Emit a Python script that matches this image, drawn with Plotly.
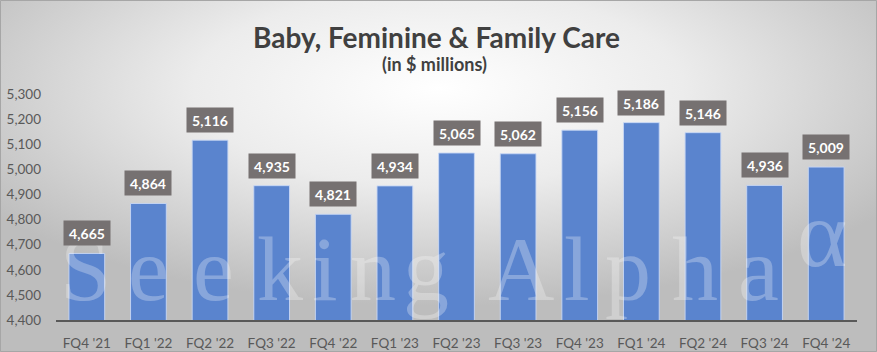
import base64
import plotly.graph_objects as go

# ---- data ----
categories = ["FQ4 '21", "FQ1 '22", "FQ2 '22", "FQ3 '22", "FQ4 '22", "FQ1 '23", "FQ2 '23",
              "FQ3 '23", "FQ4 '23", "FQ1 '24", "FQ2 '24", "FQ3 '24", "FQ4 '24"]
revenue = [4665, 4864, 5116, 4935, 4821, 4934, 5065, 5062, 5156, 5186, 5146, 4936, 5009]
y_ticks = [4400, 4500, 4600, 4700, 4800, 4900, 5000, 5100, 5200, 5300]
title_text = "Baby, Feminine & Family Care"
subtitle_text = "(in $ millions)"
watermark_letters = ["S", "e", "e", "k", "i", "n", "g", "A", "l", "p", "h", "a"]

# ---- layout geometry (pixels) ----
W, H = 877, 352
L, R, T, B = 56, 20, 94, 32
PW, PH = W - L - R, H - T - B


def px_x(x):
    return (x - L) / PW


def px_y(y):
    return (H - B - y) / PH


# background gradient as svg
svg = f'''<svg xmlns="http://www.w3.org/2000/svg" width="{W}" height="{H}" viewBox="0 0 {W} {H}" preserveAspectRatio="none">
<defs><radialGradient id="g" cx="0.5" cy="0.25" r="0.62" gradientUnits="objectBoundingBox">
<stop offset="0" stop-color="#ffffff"/><stop offset="0.45" stop-color="#ececec"/><stop offset="1" stop-color="#bdbdbd"/>
</radialGradient></defs><rect x="0" y="0" width="{W}" height="{H}" fill="url(#g)"/></svg>'''
bg_src = "data:image/svg+xml;base64," + base64.b64encode(svg.encode()).decode()

fig = go.Figure()
fig.add_trace(go.Bar(
    x=categories, y=revenue,
    marker=dict(color="#5A84CE", line=dict(color="rgba(200,215,245,0.9)", width=1)),
    hoverinfo="skip",
))

annotations = []
# watermark letters
wm_x = [85, 148, 213, 280, 325, 373, 426, 521, 577, 628, 695, 758]
for ch, x in zip(watermark_letters, wm_x):
    annotations.append(dict(
        x=px_x(x), y=px_y(300), xref="paper", yref="paper", text=ch, showarrow=False,
        xanchor="center", yanchor="bottom", yshift=-22,
        font=dict(family="Liberation Serif", size=92, color="rgba(255,255,255,0.28)"),
    ))
annotations.append(dict(
    x=px_x(822), y=px_y(266), xref="paper", yref="paper", text="α", showarrow=False,
    xanchor="center", yanchor="bottom", yshift=-23,
    font=dict(family="Liberation Serif", size=96, color="rgba(255,255,255,0.28)"),
))

# data labels
for c, v in zip(categories, revenue):
    annotations.append(dict(
        x=c, y=v, xref="x", yref="y", text=f"{v:,}", showarrow=False,
        yanchor="bottom", yshift=7, bgcolor="#767171", width=44, height=22,
        font=dict(family="Lato", size=14, color="white", weight="bold"),
    ))

# titles
annotations.append(dict(
    x=px_x(436), y=px_y(37), xref="paper", yref="paper", text=title_text, showarrow=False,
    xanchor="center", yanchor="middle",
    font=dict(family="Lato", size=28, color="#404040", weight="bold"),
))
annotations.append(dict(
    x=px_x(434), y=px_y(64), xref="paper", yref="paper", text=subtitle_text, showarrow=False,
    xanchor="center", yanchor="middle",
    font=dict(family="Lato", size=18, color="#404040", weight="bold"),
))

fig.update_layout(
    width=W, height=H,
    margin=dict(l=L, r=R, t=T, b=B, pad=0, autoexpand=False),
    paper_bgcolor="#d9d9d9",
    plot_bgcolor="rgba(0,0,0,0)",
    showlegend=False,
    bargap=0.42,
    annotations=annotations,
    images=[dict(
        source=bg_src, xref="paper", yref="paper",
        x=px_x(0), y=px_y(0), sizex=W / PW, sizey=H / PH,
        xanchor="left", yanchor="top", sizing="stretch", layer="below",
    )],
    shapes=[dict(type="rect", xref="paper", yref="paper",
                 x0=px_x(0.5), x1=px_x(W - 0.5), y0=px_y(H - 0.5), y1=px_y(0.5),
                 line=dict(color="#a6a6a6", width=1), layer="above")],
    xaxis=dict(
        showline=True, linecolor="#595959", linewidth=2, ticks="",
        showgrid=False, zeroline=False, ticklabelstandoff=10, automargin=False,
        tickfont=dict(family="Lato", size=13.5, color="#595959"),
    ),
    yaxis=dict(
        range=[4400, 5300], tickvals=y_ticks, ticktext=[f"{t:,}" for t in y_ticks],
        showgrid=False, showline=False, zeroline=False, ticks="",
        ticklabelstandoff=14, automargin=False,
        tickfont=dict(family="Lato", size=13.5, color="#595959"),
    ),
)

fig.write_html("out.html")
